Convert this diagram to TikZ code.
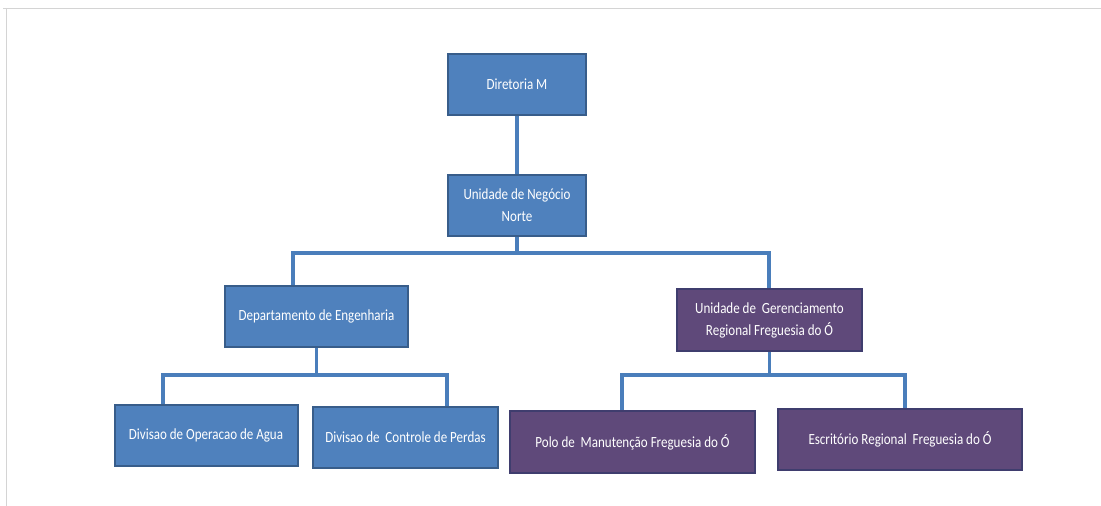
\documentclass[tikz,border=0pt]{standalone}
\usepackage{fontspec}
\setmainfont{Carlito}[FakeStretch=0.84]
\definecolor{bfill}{HTML}{4F81BD}
\definecolor{bdraw}{HTML}{385D8A}
\definecolor{pfill}{HTML}{5F497A}
\definecolor{pdraw}{HTML}{3F3D6E}
\definecolor{lcol}{HTML}{4A7EBB}
\definecolor{frame}{HTML}{D4D4D4}
\begin{document}
\begin{tikzpicture}[x=1pt,y=-1pt,
  box/.style={draw=bdraw,fill=bfill,line width=2pt,text=white,
    font=\fontsize{15.5}{22}\selectfont,align=center,inner sep=0pt},
  pbox/.style={box,draw=pdraw,fill=pfill},
  conn/.style={draw=lcol,line width=3.2pt}]
\useasboundingbox (0,0) rectangle (1101,506);
\draw[frame,line width=1pt] (3,8) -- (1101,8);
\draw[frame,line width=1pt] (6,8) -- (6,506);
% nodes
\node[box,minimum width=138,minimum height=61] (dm) at (517,84.5) {Diretoria M};
\node[box,minimum width=138,minimum height=61] (nb) at (517,205.5) {Unidade de Negócio\\Norte};
\node[box,minimum width=183,minimum height=61] (dept) at (316.5,316.5) {Departamento de Engenharia};
\node[pbox,minimum width=185,minimum height=62] (ug) at (769.5,320) {Unidade de~~Gerenciamento\\Regional Freguesia do Ó};
\node[box,minimum width=183,minimum height=61] (dop) at (206,435.5) {Divisao de Operacao de Agua};
\node[box,minimum width=185,minimum height=61] (dcp) at (405.5,437.5) {Divisao de~~Controle de Perdas};
\node[pbox,minimum width=245,minimum height=62] (polo) at (632.5,442) {Polo de~~Manutenção Freguesia do Ó};
\node[pbox,minimum width=244,minimum height=61] (esc) at (900,439.5) {Escritório Regional~~Freguesia do Ó};
% bus coordinates
\coordinate (b1l) at (293,253);
\coordinate (b1r) at (769,253);
\coordinate (b2l) at (163,375);
\coordinate (b2r) at (447,375);
\coordinate (b3l) at (622,375);
\coordinate (b3r) at (905,375);
% connectors
\draw[conn] (dm.south) -- (nb.north);
\draw[conn] (nb.south) -- (nb.south |- b1l);
\draw[conn] (b1l |- dept.north) -- (b1l) -- (b1r) -- (b1r |- ug.north);
\draw[conn] (dept.south) -- (dept.south |- b2l);
\draw[conn] (b2l |- dop.north) -- (b2l) -- (b2r) -- (b2r |- dcp.north);
\draw[conn] (ug.south) -- (ug.south |- b3l);
\draw[conn] (b3l |- polo.north) -- (b3l) -- (b3r) -- (b3r |- esc.north);
\end{tikzpicture}
\end{document}
